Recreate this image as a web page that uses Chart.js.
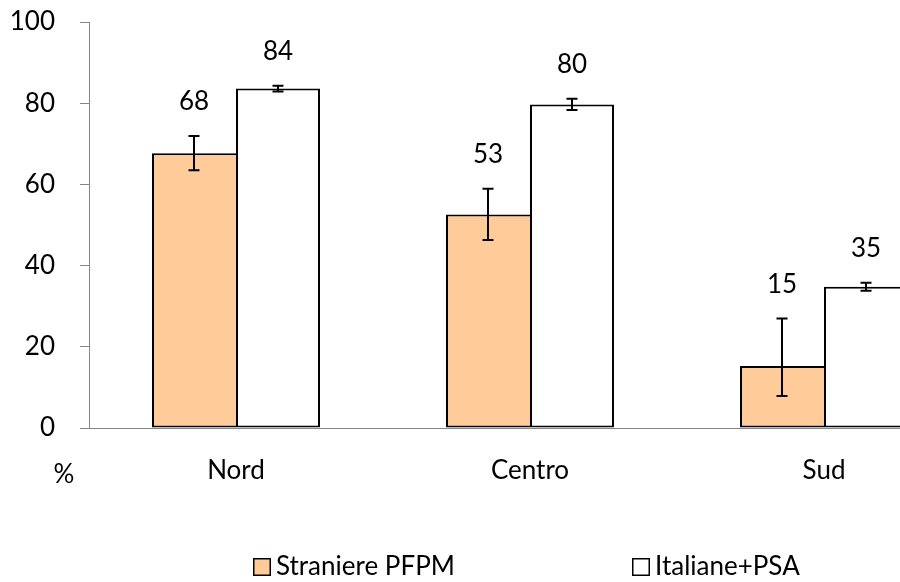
<!DOCTYPE html>
<html>
<head>
<meta charset="utf-8">
<script src="https://cdn.jsdelivr.net/npm/chart.js@4/dist/chart.umd.min.js"></script>
<style>
  html, body { margin: 0; padding: 0; background: #fff; overflow: hidden; }
  #wrap { width: 975px; height: 582px; }
</style>
</head>
<body>
<div id="wrap"><canvas id="c" width="975" height="582"></canvas></div>
<script>
const categories = ['Nord', 'Centro', 'Sud'];
const seriesNames = ['Straniere PFPM', 'Italiane+PSA'];
const straniere = [67.7, 52.6, 15.3];
const straniereLow = [63.5, 46.3, 7.9];
const straniereHigh = [71.9, 58.9, 27.0];
const italiane = [83.6, 79.7, 34.8];
const italianeLow = [82.9, 78.3, 33.8];
const italianeHigh = [84.3, 81.1, 35.8];
const yTicks = [0, 20, 40, 60, 80, 100];
const unitLabel = '%';

const FONT = 'Lato, "Open Sans", sans-serif';
Chart.defaults.font.family = FONT;
Chart.defaults.color = '#000';

const errorBars = [
  { low: straniereLow, high: straniereHigh },
  { low: italianeLow, high: italianeHigh }
];

const errPlugin = {
  id: 'errPlugin',
  afterDatasetsDraw(chart) {
    const ctx = chart.ctx;
    const ys = chart.scales.y;
    ctx.save();
    chart.data.datasets.forEach((ds, i) => {
      const meta = chart.getDatasetMeta(i);
      meta.data.forEach((el, j) => {
        const x = el.x;
        const yt = ys.getPixelForValue(errorBars[i].high[j]);
        const yb = ys.getPixelForValue(errorBars[i].low[j]);
        ctx.strokeStyle = '#000';
        ctx.lineWidth = 2;
        ctx.beginPath();
        ctx.moveTo(x, yt); ctx.lineTo(x, yb);
        ctx.moveTo(x - 5.5, yt); ctx.lineTo(x + 5.5, yt);
        ctx.moveTo(x - 5.5, yb); ctx.lineTo(x + 5.5, yb);
        ctx.stroke();
        ctx.fillStyle = '#000';
        ctx.font = '26px ' + FONT;
        ctx.textAlign = 'center';
        ctx.textBaseline = 'middle';
        ctx.fillText(String(Math.round(ds.data[j])), x, yt - 34);
      });
    });
    ctx.font = '26px ' + FONT;
    ctx.textAlign = 'center';
    ctx.textBaseline = 'middle';
    ctx.fillStyle = '#000';
    ctx.fillText(unitLabel, 64, 475);
    const items = [{ x: 253 }, { x: 632 }];
    const ly = 567;
    chart.data.datasets.forEach((ds, i) => {
      const bx = items[i].x;
      ctx.fillStyle = ds.backgroundColor;
      ctx.fillRect(bx, ly - 9, 18, 18);
      ctx.lineWidth = 1.5;
      ctx.strokeStyle = '#000';
      ctx.strokeRect(bx + 0.75, ly - 8.25, 16.5, 16.5);
      ctx.fillStyle = '#000';
      ctx.textAlign = 'left';
      ctx.fillText(ds.label, bx + 23, ly);
    });
    ctx.restore();
  }
};

new Chart(document.getElementById('c'), {
  type: 'bar',
  data: {
    labels: categories,
    datasets: [
      {
        label: seriesNames[0],
        data: straniere,
        backgroundColor: '#FFCC99',
        borderColor: '#000',
        borderWidth: { top: 2, left: 2, bottom: 2, right: 0 },
        borderSkipped: false,
        categoryPercentage: 0.5714,
        barPercentage: 1.0
      },
      {
        label: seriesNames[1],
        data: italiane,
        backgroundColor: '#FFFFFF',
        borderColor: '#000',
        borderWidth: { top: 2, left: 2, bottom: 2, right: 2 },
        borderSkipped: false,
        categoryPercentage: 0.5714,
        barPercentage: 1.0
      }
    ]
  },
  options: {
    responsive: false,
    animation: false,
    layout: { padding: { top: 22, right: 4, left: 0, bottom: 0 } },
    plugins: {
      legend: { display: false },
      tooltip: { enabled: false }
    },
    scales: {
      x: {
        grid: { display: false, drawTicks: false },
        border: { display: true, color: '#868686', width: 1 },
        ticks: { font: { size: 26 }, padding: 27, color: '#000' },
        afterFit(scale) { scale.height = 154; scale.paddingLeft = 0; scale.paddingRight = 0; }
      },
      y: {
        min: 0,
        max: 100,
        afterBuildTicks(scale) { scale.ticks = yTicks.map(v => ({ value: v })); },
        grid: { drawOnChartArea: false, drawTicks: true, tickLength: 9, tickColor: '#868686' },
        border: { display: true, color: '#868686', width: 1 },
        ticks: { font: { size: 26 }, padding: 25, color: '#000' },
        afterFit(scale) { scale.width = 89; scale.paddingTop = 0; scale.paddingBottom = 0; }
      }
    }
  },
  plugins: [errPlugin]
});
</script>
</body>
</html>
